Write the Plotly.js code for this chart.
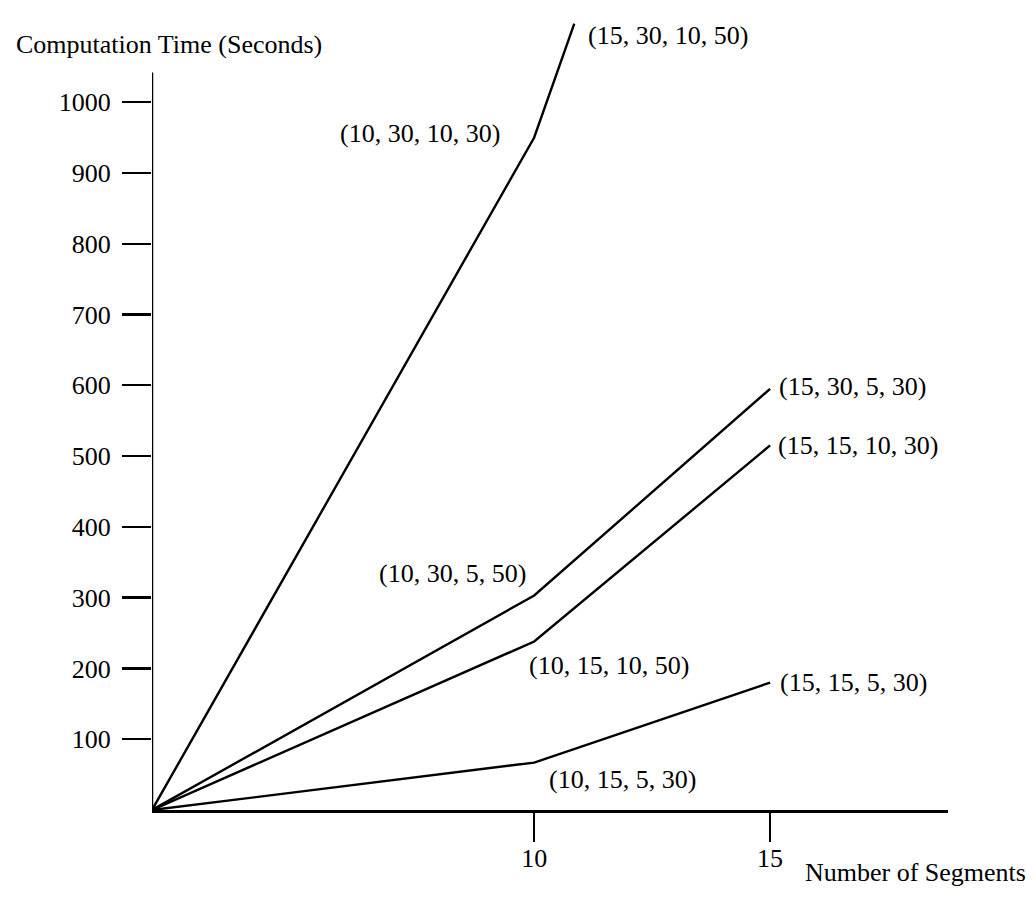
<!DOCTYPE html>
<html>
<head>
<meta charset="utf-8">
<script src="https://cdn.plot.ly/plotly-3.0.1.min.js"></script>
<style>
  html, body { margin: 0; padding: 0; background: #fff; }
  #chart { width: 1036px; height: 901px; }
</style>
</head>
<body>
<div id="chart"></div>
<script>
// --- data ---
const xStart = 1.9;                 // the axes meet here (not drawn to scale)
const xTicks = [10, 15];
const yTicks = [100, 200, 300, 400, 500, 600, 700, 800, 900, 1000];

const xA = [xStart, 10, 10.85];     // steepest line leaves the top of the chart
const yA = [0, 950, 1111];
const xB = [xStart, 10, 15];
const yB = [0, 303, 595];
const yC = [0, 238, 515];
const yD = [0, 67, 180];

const labelsA = ['(10, 30, 10, 30)', '(15, 30, 10, 50)'];
const labelsB = ['(10, 30, 5, 50)', '(15, 30, 5, 30)'];
const labelsC = ['(10, 15, 10, 50)', '(15, 15, 10, 30)'];
const labelsD = ['(10, 15, 5, 30)', '(15, 15, 5, 30)'];

const yAxisTop = 1042;

// --- style ---
const FONT = { family: 'Liberation Serif, Times New Roman, serif', size: 26, color: '#000' };
const LINE = { color: '#000', width: 2.4 };

const series = [
    { x: xA, y: yA },
    { x: xB, y: yB },
    { x: xB, y: yC },
    { x: xB, y: yD }
];

const traces = series.map(s => ({
    x: s.x,
    y: s.y,
    mode: 'lines',
    line: LINE,
    hoverinfo: 'skip',
    showlegend: false
}));

// label placement next to each point (pixel shifts)
// [xanchor, xshift, yshift] for the kink point and for the end point
const place = [
    [['right', -32, 4], ['left', 12, -12]],
    [['right', -6, 22], ['left', 7, 2]],
    [['left', -7, -24], ['left', 6, 0]],
    [['left', 13, -17], ['left', 8, 0]]
];
const allLabels = [labelsA, labelsB, labelsC, labelsD];

const annotations = [];
series.forEach((s, i) => {
    [1, 2].forEach((p, j) => {
        const [xa, xs, ys] = place[i][j];
        annotations.push({
            text: allLabels[i][j],
            x: s.x[p], y: s.y[p],
            xref: 'x', yref: 'y',
            xanchor: xa, yanchor: 'middle',
            xshift: xs, yshift: ys,
            showarrow: false,
            font: FONT
        });
    });
});

// axis titles
annotations.push({
    text: 'Computation Time (Seconds)',
    xref: 'paper', yref: 'paper', x: 0, y: 1,
    xanchor: 'left', yanchor: 'middle',
    xshift: -138, yshift: -24,
    showarrow: false, font: FONT
});
annotations.push({
    text: 'Number of Segments',
    xref: 'x', yref: 'paper', x: 15, y: 0,
    xanchor: 'left', yanchor: 'middle',
    xshift: 33, yshift: -62,
    showarrow: false, font: FONT
});

const layout = {
    width: 1036,
    height: 901,
    margin: { l: 152, r: 88, t: 20, b: 91 },
    paper_bgcolor: '#fff',
    plot_bgcolor: '#fff',
    font: FONT,
    showlegend: false,
    xaxis: {
        range: [xStart, 18.77],
        tickvals: xTicks,
        ticks: 'outside',
        ticklen: 29,
        tickwidth: 2.3,
        tickcolor: '#000',
        ticklabelstandoff: -6,
        showline: true,
        linecolor: '#000',
        linewidth: 2.5,
        showgrid: false,
        zeroline: false,
        tickfont: FONT
    },
    yaxis: {
        range: [0, 1116],
        tickvals: yTicks,
        ticks: 'outside',
        ticklen: 29,
        tickwidth: 2.3,
        tickcolor: '#000',
        ticklabelstandoff: 6,
        showline: false,
        showgrid: false,
        zeroline: false,
        tickfont: FONT
    },
    shapes: [{
        type: 'line',
        xref: 'x', yref: 'y',
        x0: xStart, x1: xStart, y0: 0, y1: yAxisTop,
        line: { color: '#000', width: 2.5 }
    }],
    annotations: annotations
};

Plotly.newPlot('chart', traces, layout, { staticPlot: true, displayModeBar: false });
</script>
</body>
</html>
